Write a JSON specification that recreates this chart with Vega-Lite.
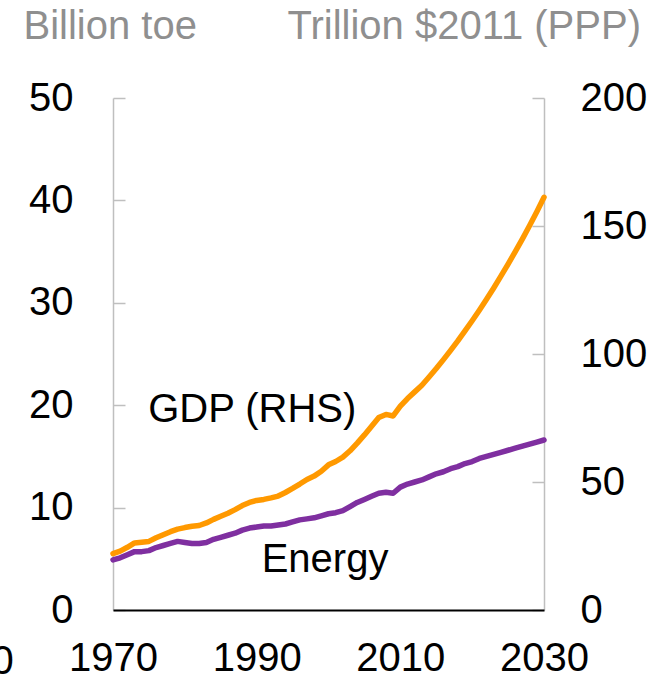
{
  "$schema": "https://vega.github.io/schema/vega-lite/v6.json",
  "width": 431,
  "height": 512,
  "autosize": {"type": "none"},
  "padding": {"left": 113, "top": 98, "right": 123, "bottom": 69},
  "background": "white",
  "config": {
    "font": "Liberation Sans",
    "view": {"stroke": null},
    "axis": {"grid": false, "labelFlush": false, "labelOverlap": false, "labelFont": "Liberation Sans", "titleFont": "Liberation Sans"}
  },
  "datasets": {
    "series": [
      {"year": 1970, "energy": 4.9, "gdp": 22.0},
      {"year": 1971, "energy": 5.1, "gdp": 23.0},
      {"year": 1972, "energy": 5.4, "gdp": 24.5},
      {"year": 1973, "energy": 5.7, "gdp": 26.2},
      {"year": 1974, "energy": 5.7, "gdp": 26.5},
      {"year": 1975, "energy": 5.8, "gdp": 26.8},
      {"year": 1976, "energy": 6.1, "gdp": 28.2},
      {"year": 1977, "energy": 6.3, "gdp": 29.4},
      {"year": 1978, "energy": 6.5, "gdp": 30.6},
      {"year": 1979, "energy": 6.7, "gdp": 31.6},
      {"year": 1980, "energy": 6.6, "gdp": 32.2},
      {"year": 1981, "energy": 6.5, "gdp": 32.7},
      {"year": 1982, "energy": 6.5, "gdp": 33.0},
      {"year": 1983, "energy": 6.6, "gdp": 34.0},
      {"year": 1984, "energy": 6.9, "gdp": 35.4},
      {"year": 1985, "energy": 7.1, "gdp": 36.6},
      {"year": 1986, "energy": 7.3, "gdp": 37.8},
      {"year": 1987, "energy": 7.5, "gdp": 39.2},
      {"year": 1988, "energy": 7.8, "gdp": 40.8},
      {"year": 1989, "energy": 8.0, "gdp": 42.0},
      {"year": 1990, "energy": 8.1, "gdp": 42.8},
      {"year": 1991, "energy": 8.2, "gdp": 43.2},
      {"year": 1992, "energy": 8.2, "gdp": 43.8},
      {"year": 1993, "energy": 8.3, "gdp": 44.5},
      {"year": 1994, "energy": 8.4, "gdp": 45.9},
      {"year": 1995, "energy": 8.6, "gdp": 47.5},
      {"year": 1996, "energy": 8.8, "gdp": 49.2},
      {"year": 1997, "energy": 8.9, "gdp": 51.0},
      {"year": 1998, "energy": 9.0, "gdp": 52.3},
      {"year": 1999, "energy": 9.2, "gdp": 54.2},
      {"year": 2000, "energy": 9.4, "gdp": 56.7},
      {"year": 2001, "energy": 9.5, "gdp": 58.0},
      {"year": 2002, "energy": 9.7, "gdp": 59.7},
      {"year": 2003, "energy": 10.1, "gdp": 62.2},
      {"year": 2004, "energy": 10.5, "gdp": 65.2},
      {"year": 2005, "energy": 10.8, "gdp": 68.4},
      {"year": 2006, "energy": 11.1, "gdp": 71.8},
      {"year": 2007, "energy": 11.4, "gdp": 75.2},
      {"year": 2008, "energy": 11.5, "gdp": 76.4},
      {"year": 2009, "energy": 11.4, "gdp": 75.8},
      {"year": 2010, "energy": 12.0, "gdp": 79.6},
      {"year": 2011, "energy": 12.3, "gdp": 82.6},
      {"year": 2012, "energy": 12.5, "gdp": 85.2},
      {"year": 2013, "energy": 12.7, "gdp": 87.8},
      {"year": 2014, "energy": 13.0, "gdp": 91.0},
      {"year": 2015, "energy": 13.3, "gdp": 94.3},
      {"year": 2016, "energy": 13.5, "gdp": 97.8},
      {"year": 2017, "energy": 13.8, "gdp": 101.4},
      {"year": 2018, "energy": 14.0, "gdp": 105.1},
      {"year": 2019, "energy": 14.3, "gdp": 109.0},
      {"year": 2020, "energy": 14.5, "gdp": 113.0},
      {"year": 2021, "energy": 14.8, "gdp": 117.1},
      {"year": 2022, "energy": 15.0, "gdp": 121.4},
      {"year": 2023, "energy": 15.2, "gdp": 125.8},
      {"year": 2024, "energy": 15.4, "gdp": 130.4},
      {"year": 2025, "energy": 15.6, "gdp": 135.1},
      {"year": 2026, "energy": 15.8, "gdp": 140.0},
      {"year": 2027, "energy": 16.0, "gdp": 145.0},
      {"year": 2028, "energy": 16.2, "gdp": 150.2},
      {"year": 2029, "energy": 16.4, "gdp": 155.6},
      {"year": 2030, "energy": 16.6, "gdp": 161.2}
    ],
    "labels": [
      {"label": "GDP (RHS)", "year": 1974.9, "value": 19.5},
      {"label": "Energy", "year": 1990.7, "value": 4.9}
    ],
    "strayLabels": [
      {"label": "1950", "year": 1950, "value": -5.1}
    ]
  },
  "layer": [
    {
      "layer": [
        {
          "data": {"name": "series"},
          "mark": {"type": "line", "color": "#7F2FA0", "strokeWidth": 5.5, "strokeCap": "round", "strokeJoin": "round"},
          "encoding": {
            "x": {"field": "year", "type": "quantitative", "scale": {"domain": [1970, 2030], "nice": false, "zero": false},
              "axis": {"orient": "bottom", "values": [1970, 1990, 2010, 2030], "format": "d", "title": null, "ticks": false, "zindex": 2,
                "domainColor": "#000000", "domainWidth": 2, "labelFontSize": 40, "labelColor": "#000000", "labelPadding": 28}},
            "y": {"field": "energy", "type": "quantitative", "scale": {"domain": [0, 50], "nice": false},
              "axis": {"orient": "left", "values": [0, 10, 20, 30, 40, 50], "title": "Billion toe",
                "domainColor": "#BFBFBF", "domainWidth": 1.5, "tickColor": "#BFBFBF", "tickWidth": 1.5, "tickSize": -12,
                "labelFontSize": 40, "labelColor": "#000000", "labelPadding": 52,
                "titleAngle": 0, "titleX": -90, "titleY": -60, "titleAlign": "left", "titleBaseline": "alphabetic",
                "titleFontSize": 40, "titleFontWeight": "normal", "titleColor": "#8F8F8F"}}
          }
        },
        {
          "data": {"name": "labels"},
          "mark": {"type": "text", "fontSize": 40, "color": "#000000", "align": "left", "baseline": "middle"},
          "encoding": {
            "x": {"field": "year", "type": "quantitative"},
            "y": {"field": "value", "type": "quantitative"},
            "text": {"field": "label"}
          }
        },
        {
          "data": {"name": "strayLabels"},
          "mark": {"type": "text", "fontSize": 40, "color": "#000000", "align": "center", "baseline": "middle", "clip": false},
          "encoding": {
            "x": {"field": "year", "type": "quantitative"},
            "y": {"field": "value", "type": "quantitative"},
            "text": {"field": "label"}
          }
        },
        {
          "mark": {"type": "rule", "color": "#A6A6A6", "strokeWidth": 2},
          "encoding": {"x": {"datum": 2011.4}}
        }
      ]
    },
    {
      "data": {"name": "series"},
      "mark": {"type": "line", "color": "#FF9900", "strokeWidth": 5.5, "strokeCap": "round", "strokeJoin": "round"},
      "encoding": {
        "x": {"field": "year", "type": "quantitative"},
        "y": {"field": "gdp", "type": "quantitative", "scale": {"domain": [0, 200], "nice": false},
          "axis": {"orient": "right", "values": [0, 50, 100, 150, 200], "title": "Trillion $2011 (PPP)",
            "domainColor": "#BFBFBF", "domainWidth": 1.5, "tickColor": "#BFBFBF", "tickWidth": 1.5, "tickSize": -12,
            "labelFontSize": 40, "labelColor": "#000000", "labelPadding": 48,
            "titleAngle": 0, "titleX": -257, "titleY": -60, "titleAlign": "left", "titleBaseline": "alphabetic",
            "titleFontSize": 40, "titleFontWeight": "normal", "titleColor": "#8F8F8F"}}
      }
    }
  ],
  "resolve": {"scale": {"y": "independent"}, "axis": {"y": "independent"}}
}
